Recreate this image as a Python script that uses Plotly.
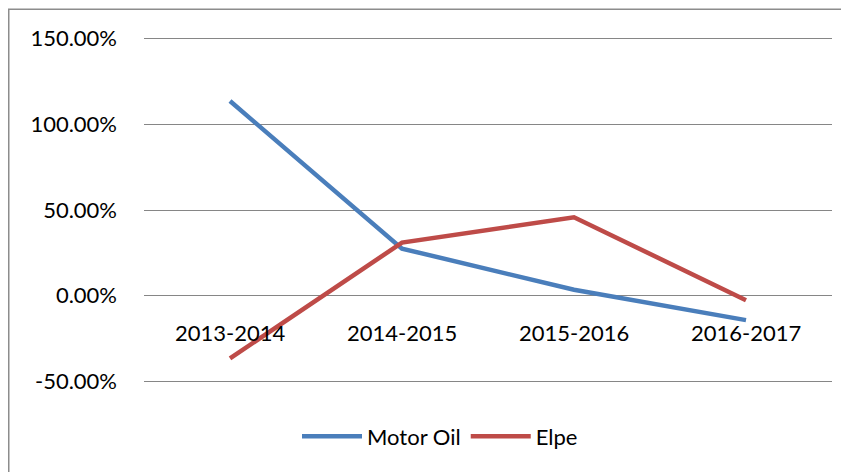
import plotly.graph_objects as go

categories = ["2013-2014", "2014-2015", "2015-2016", "2016-2017"]
motor_oil = [1.135, 0.275, 0.035, -0.142]
elpe = [-0.365, 0.31, 0.458, -0.026]
y_ticks = [-0.5, 0.0, 0.5, 1.0, 1.5]
y_tick_labels = [f"{v * 100:.2f}%" for v in y_ticks]

FONT = "Lato, Calibri, Carlito, sans-serif"
# the page adds an 8px body margin, so the figure starts at (8, 8)
W, H = 841, 464
L, R, T, B = 136, 17, 26.6, 86.6
pw, ph = W - L - R, H - T - B

fig = go.Figure()
fig.add_trace(go.Scatter(x=categories, y=motor_oil, name="Motor Oil", mode="lines",
                         line=dict(color="#4A7EBB", width=4.5)))
fig.add_trace(go.Scatter(x=categories, y=elpe, name="Elpe", mode="lines",
                         line=dict(color="#BE4B48", width=4.5)))

for c in categories:
    fig.add_annotation(x=c, y=0, xref="x", yref="y", text=c, showarrow=False,
                       yanchor="top", yshift=-21, font=dict(family=FONT, size=22, color="#000"))

def px_x(p):
    return (p - L) / pw

def px_y(p):
    return (H - B - p) / ph

fig.add_shape(type="rect", xref="paper", yref="paper",
              x0=px_x(0.75), x1=px_x(900), y0=px_y(520), y1=px_y(0.75),
              line=dict(color="#8C8C8C", width=1.5), fillcolor="rgba(0,0,0,0)", layer="below")

fig.update_layout(
    width=W, height=H,
    margin=dict(l=L, r=R, t=T, b=B, autoexpand=False),
    paper_bgcolor="white", plot_bgcolor="white",
    font=dict(family=FONT, size=22, color="#000"),
    showlegend=True,
    legend=dict(orientation="h", x=px_x(432), xanchor="center", y=px_y(429), yanchor="middle",
                font=dict(family=FONT, size=22), itemwidth=60, traceorder="normal"),
    xaxis=dict(type="category", range=[-0.5, 3.5], showticklabels=False, showgrid=False,
               zeroline=False, showline=False, ticks=""),
    yaxis=dict(range=[-0.52, 1.52], tickvals=y_ticks, ticktext=y_tick_labels, showgrid=True,
               gridcolor="#868686", gridwidth=1.3, zeroline=False, showline=False,
               ticks="", ticklabelstandoff=26),
)

fig.write_html("out.html")
